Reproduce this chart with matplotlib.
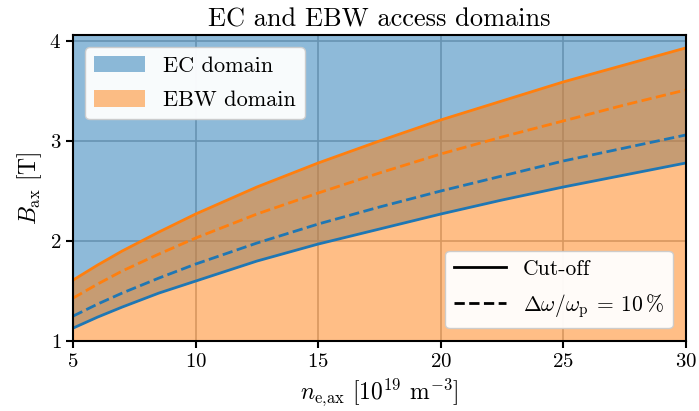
import matplotlib
matplotlib.use("Agg")
import matplotlib.pyplot as plt
import numpy as np
from matplotlib.patches import Patch
from matplotlib.lines import Line2D

plt.rcParams['font.family'] = 'serif'
plt.rcParams['font.serif'] = ['cmr10', 'DejaVu Serif']
plt.rcParams['mathtext.fontset'] = 'cm'
plt.rcParams['axes.formatter.use_mathtext'] = True

# density n_e,ax [1e19 m^-3]
ne = [5, 6, 7, 8.5, 10, 12.5, 15, 17.5, 20, 22.5, 25, 27.5, 30]
# B_ax [T]
ec_cutoff = [1.13, 1.24, 1.34, 1.48, 1.60, 1.80, 1.97, 2.12, 2.27, 2.41, 2.54, 2.66, 2.78]
ec_10pct = [1.25, 1.37, 1.48, 1.63, 1.77, 1.98, 2.17, 2.34, 2.50, 2.65, 2.80, 2.93, 3.06]
ebw_10pct = [1.43, 1.57, 1.70, 1.87, 2.03, 2.27, 2.48, 2.68, 2.87, 3.04, 3.20, 3.36, 3.51]
ebw_cutoff = [1.61, 1.76, 1.90, 2.09, 2.27, 2.54, 2.78, 3.00, 3.21, 3.40, 3.59, 3.76, 3.93]

ymin, ymax = 1, 4.06

fig, ax = plt.subplots(figsize=(6.99, 4.11), dpi=100)
fig.subplots_adjust(left=0.1045, right=0.981, top=0.915, bottom=0.17)

ax.set_axisbelow(True)
ax.grid(True, color='#b0b0b0', linewidth=1.2)

ax.fill_between(ne, ec_cutoff, ymax, color='C0', alpha=0.5, linewidth=0)
ax.fill_between(ne, ymin, ebw_cutoff, color='C1', alpha=0.5, linewidth=0)

ax.plot(ne, ec_cutoff, color='C0', lw=2)
ax.plot(ne, ec_10pct, color='C0', lw=2, ls='--')
ax.plot(ne, ebw_cutoff, color='C1', lw=2)
ax.plot(ne, ebw_10pct, color='C1', lw=2, ls='--')

ax.set_xlim(5, 30)
ax.set_ylim(ymin, ymax)
ax.set_xticks([5, 10, 15, 20, 25, 30])
ax.set_yticks([1, 2, 3, 4])
ax.tick_params(labelsize=15, width=1.5, length=5)
for s in ax.spines.values():
    s.set_linewidth(1.5)

ax.set_xlabel(r'$n_\mathrm{e{,}ax}$ [$10^{19}$ m$^{-3}$]', fontsize=17)
ax.set_ylabel(r'$B_\mathrm{ax}$ [T]', fontsize=17)
ax.set_title('EC and EBW access domains', fontsize=19)

leg1 = ax.legend(handles=[Patch(facecolor='C0', alpha=0.5, label='EC domain'),
                          Patch(facecolor='C1', alpha=0.5, label='EBW domain')],
                 loc='upper left', fontsize=16, handlelength=2.3,
                 handleheight=0.75, labelspacing=0.65, framealpha=0.95,
                 borderaxespad=0.55)
ax.add_artist(leg1)
ax.legend(handles=[Line2D([], [], color='k', lw=2, label='Cut-off'),
                   Line2D([], [], color='k', lw=2, ls='--',
                          label=r'$\Delta\omega/\omega_\mathrm{p}\:=\:10\,\%$')],
          loc='lower right', fontsize=15.5, handlelength=2.4,
          labelspacing=0.6, framealpha=0.95, borderaxespad=0.6)

fig.savefig('out.png', dpi=100)
